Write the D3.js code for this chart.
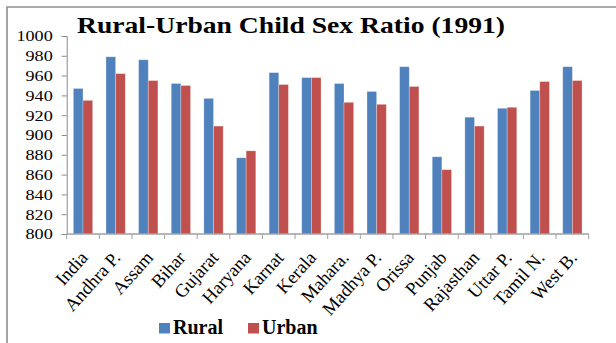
<!DOCTYPE html>
<html>
<head>
<meta charset="utf-8">
<script src="https://cdn.jsdelivr.net/npm/d3@7"></script>
<style>
  html, body { margin: 0; padding: 0; background: #fff; }
  svg { display: block; }
  svg text { font-family: "Times New Roman", "Liberation Serif", Tinos, serif; }
</style>
</head>
<body>
<script>
// Child sex ratio (girls per 1000 boys, age 0-6), Census 1991
const states = ["India", "Andhra P.", "Assam", "Bihar", "Gujarat", "Haryana", "Karnat", "Kerala",
  "Mahara.", "Madhya P.", "Orissa", "Punjab", "Rajasthan", "Uttar P.", "Tamil N.", "West B."];
const rural = [947, 979, 976, 952, 937, 877, 963, 958, 952, 944, 969, 878, 918, 927, 945, 969];
const urban = [935, 962, 955, 950, 909, 884, 951, 958, 933, 931, 949, 865, 909, 928, 954, 955];
const seriesNames = ["Rural", "Urban"];
const seriesColors = ["#4F81BD", "#C0504D"];
const yTicks = [800, 820, 840, 860, 880, 900, 920, 940, 960, 980, 1000];

const W = 616, H = 343;
const svg = d3.select("body").append("svg").attr("width", W).attr("height", H);

// outer chart frame
svg.append("path")
  .attr("d", `M7,${H} L7,7 L${W},7`)
  .attr("fill", "none").attr("stroke", "#8e8e8e").attr("stroke-width", 1.6);

const plot = { left: 66.7, right: 588.7, top: 36, bottom: 234 };

const x0 = d3.scaleBand().domain(states).range([plot.left, plot.right]).padding(0);
const x1 = d3.scaleBand().domain(seriesNames).range([0, x0.bandwidth()]).paddingInner(0).paddingOuter(0.69);
const y = d3.scaleLinear().domain([800, 1000]).range([plot.bottom, plot.top]);

// bars
const rows = states.map((s, i) => ({ state: s, values: [rural[i], urban[i]] }));
const groups = svg.append("g").selectAll("g").data(rows).join("g")
  .attr("transform", d => `translate(${x0(d.state)},0)`);
groups.selectAll("rect")
  .data(d => d.values.map((v, k) => ({ key: seriesNames[k], value: v, k })))
  .join("rect")
  .attr("x", d => x1(d.key))
  .attr("width", x1.bandwidth())
  .attr("y", d => y(d.value))
  .attr("height", d => y(800) - y(d.value))
  .attr("fill", d => seriesColors[d.k])
  .attr("stroke", "rgba(255,255,255,0.35)")
  .attr("stroke-width", 0.8);

// y axis
const yAxis = svg.append("g").attr("transform", `translate(${plot.left},0)`)
  .call(d3.axisLeft(y).tickValues(yTicks).tickSize(5).tickFormat(d3.format("d")));
yAxis.attr("font-family", null).attr("font-size", null);
yAxis.select(".domain").attr("stroke", "#8a8a8a");
yAxis.selectAll(".tick line").attr("stroke", "#8a8a8a");
yAxis.selectAll(".tick text")
  .attr("x", null).attr("y", 0).attr("dy", "0.34em")
  .attr("transform", "translate(-14,0) scale(1.25,1)")
  .attr("font-size", 14.5).attr("fill", "#000")
  .attr("text-anchor", "end");

// x axis with ticks at the category boundaries
const xAxisG = svg.append("g").attr("transform", `translate(0,${plot.bottom})`);
xAxisG.append("line").attr("x1", plot.left).attr("x2", plot.right)
  .attr("stroke", "#a0a0a0").attr("stroke-width", 1.4);
const bounds = states.map(s => x0(s)).concat([plot.right]);
xAxisG.selectAll("line.tick").data(bounds).join("line")
  .attr("class", "tick")
  .attr("x1", d => d).attr("x2", d => d).attr("y1", 0).attr("y2", 5)
  .attr("stroke", "#a0a0a0").attr("stroke-width", 1);
xAxisG.selectAll("text").data(states).join("text")
  .attr("transform", d => `translate(${x0(d) + x0.bandwidth() / 2 + 1},${20}) rotate(-48)`)
  .attr("text-anchor", "end")
  .attr("dy", "0.35em")
  .attr("font-size", 18.5).attr("fill", "#000")
  .text(d => d);

// title
svg.append("text")
  .attr("x", 77).attr("y", 33)
  .attr("font-weight", "bold").attr("font-size", 24)
  .attr("textLength", 428).attr("lengthAdjust", "spacingAndGlyphs")
  .attr("fill", "#000")
  .text("Rural-Urban Child Sex Ratio (1991)");

// legend
const legendX = [159, 248];
const legend = svg.append("g").selectAll("g").data(seriesNames).join("g")
  .attr("transform", (d, i) => `translate(${legendX[i]},0)`);
legend.append("rect").attr("x", 0).attr("y", 323).attr("width", 11).attr("height", 10.5)
  .attr("fill", (d, i) => seriesColors[i]);
legend.append("text").attr("x", 14).attr("y", 334)
  .attr("font-weight", "bold").attr("font-size", 20)
  .attr("fill", "#000").text(d => d);
</script>
</body>
</html>
